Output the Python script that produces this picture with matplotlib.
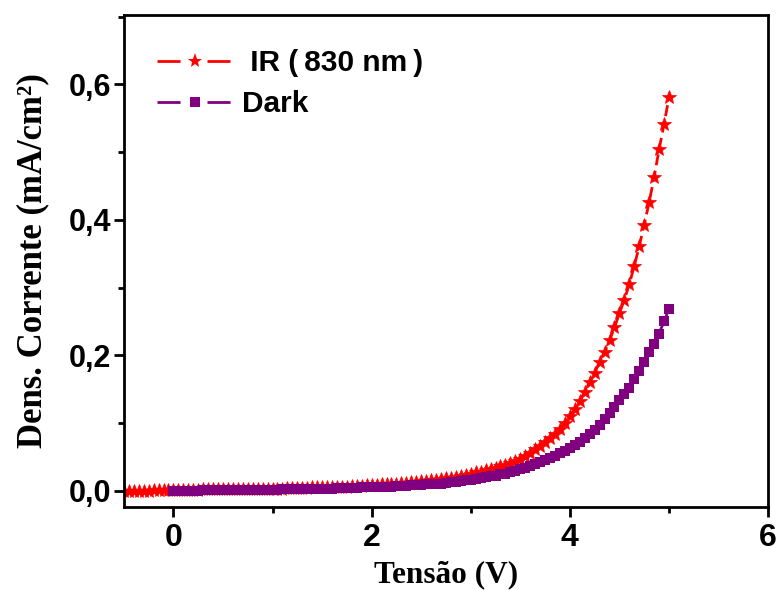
import matplotlib
matplotlib.use("Agg")
import matplotlib.pyplot as plt
import numpy as np
from matplotlib.ticker import FuncFormatter, MultipleLocator
from matplotlib.lines import Line2D

# IR (830 nm) series: voltage -0.5 .. 5.0 (step 0.05)
ir_v = [round(-0.5 + 0.05 * i, 2) for i in range(111)]
ir_j = [0.000, 0.000, 0.000, 0.000, 0.000, 0.000, 0.001, 0.001, 0.001, 0.001,
        0.001, 0.001, 0.001, 0.001, 0.001, 0.001, 0.002, 0.002, 0.002, 0.002,
        0.002, 0.002, 0.002, 0.002, 0.002, 0.003, 0.003, 0.003, 0.003, 0.003,
        0.003, 0.003, 0.003, 0.004, 0.004, 0.004, 0.004, 0.004, 0.005, 0.005,
        0.005, 0.005, 0.006, 0.006, 0.006, 0.006, 0.007, 0.007, 0.007, 0.008,
        0.008, 0.008, 0.009, 0.009, 0.010, 0.010, 0.011, 0.011, 0.012, 0.013,
        0.014, 0.014, 0.015, 0.016, 0.017, 0.018, 0.019, 0.020, 0.022, 0.023,
        0.025, 0.027, 0.028, 0.030, 0.032, 0.034, 0.036, 0.038, 0.041, 0.044,
        0.047, 0.051, 0.056, 0.061, 0.066, 0.072, 0.078, 0.084, 0.091, 0.100,
        0.110, 0.120, 0.132, 0.146, 0.160, 0.174, 0.190, 0.205, 0.222, 0.241,
        0.262, 0.282, 0.305, 0.332, 0.361, 0.393, 0.426, 0.463, 0.504, 0.541,
        0.581]

# Dark series: voltage 0.0 .. 5.0 (step 0.05)
dark_v = [round(0.05 * i, 2) for i in range(101)]
dark_j = [0.000, 0.000, 0.000, 0.000, 0.000, 0.000, 0.001, 0.001, 0.001, 0.001,
          0.001, 0.001, 0.001, 0.001, 0.001, 0.001, 0.001, 0.001, 0.001, 0.001,
          0.001, 0.001, 0.002, 0.002, 0.002, 0.002, 0.002, 0.002, 0.003, 0.003,
          0.003, 0.003, 0.003, 0.004, 0.004, 0.004, 0.004, 0.004, 0.005, 0.005,
          0.005, 0.005, 0.006, 0.006, 0.006, 0.007, 0.007, 0.007, 0.008, 0.008,
          0.008, 0.009, 0.009, 0.010, 0.010, 0.011, 0.012, 0.013, 0.014, 0.015,
          0.016, 0.017, 0.018, 0.020, 0.021, 0.022, 0.024, 0.025, 0.027, 0.029,
          0.032, 0.034, 0.036, 0.039, 0.042, 0.045, 0.048, 0.051, 0.055, 0.059,
          0.063, 0.067, 0.072, 0.078, 0.084, 0.090, 0.097, 0.105, 0.114, 0.124,
          0.134, 0.142, 0.152, 0.165, 0.177, 0.190, 0.204, 0.217, 0.232, 0.250,
          0.268]

labels = [" IR (\u2009830 nm\u2009)", "Dark"]
colors = ["#FF0000", "#800080"]
x_ticks = [0, 2, 4, 6]
y_ticks = [0.0, 0.2, 0.4, 0.6]

fig = plt.figure(figsize=(7.79, 5.90), dpi=100)
ax = fig.add_axes([0.159, 0.141, 0.827, 0.834])

ax.plot(ir_v, ir_j, linestyle=(0, (4, 2)), color=colors[0], linewidth=2,
        marker="*", markersize=10.5, markeredgewidth=0.5)
ax.plot(dark_v, dark_j, linestyle=(0, (4, 2)), color=colors[1], linewidth=2,
        marker="s", markersize=7, markeredgewidth=0)

ax.set_xlim(-0.5, 6)
ax.set_ylim(-0.024, 0.703)
ax.set_xticks(x_ticks)
ax.set_yticks(y_ticks)
ax.xaxis.set_minor_locator(MultipleLocator(1))
ax.yaxis.set_minor_locator(MultipleLocator(0.1))

fmt = FuncFormatter(lambda v, p: ("%.1f" % v).replace(".", ","))
ax.yaxis.set_major_formatter(fmt)

for s in ax.spines.values():
    s.set_linewidth(2)
ax.tick_params(which="major", direction="out", length=7, width=2)
ax.tick_params(which="minor", direction="out", length=4, width=2)
ax.tick_params(axis="x", which="major", pad=5)
ax.tick_params(axis="y", which="major", pad=2)

for lab in ax.get_xticklabels():
    lab.set_fontfamily("Liberation Sans")
    lab.set_fontweight("bold")
    lab.set_fontsize(23)
for lab in ax.get_yticklabels():
    lab.set_fontfamily("Liberation Sans")
    lab.set_fontweight("bold")
    lab.set_fontsize(22)

ax.set_xlabel("Tensão (V)", fontfamily="Liberation Serif", fontweight="bold",
              fontsize=22.5, labelpad=5)
ax.set_ylabel("Dens. Corrente (mA/cm²)", fontfamily="Liberation Serif",
              fontweight="bold", fontsize=25, labelpad=14)

handles = [
    Line2D([], [], color=colors[0], linewidth=2, linestyle=(0, (8.3, 9.7)),
           marker="*", markersize=11, markeredgewidth=0),
    Line2D([], [], color=colors[1], linewidth=2, linestyle=(0, (8.3, 9.7)),
           marker="s", markersize=7, markeredgewidth=0),
]
leg = ax.legend(handles, labels, loc="upper left",
                bbox_to_anchor=(0.01, 0.985), frameon=False,
                prop={"family": "Liberation Sans", "weight": "bold", "size": 21.5},
                handlelength=2.5, handletextpad=0.35, labelspacing=0.45,
                numpoints=1)

fig.savefig("out.png", dpi=100)
